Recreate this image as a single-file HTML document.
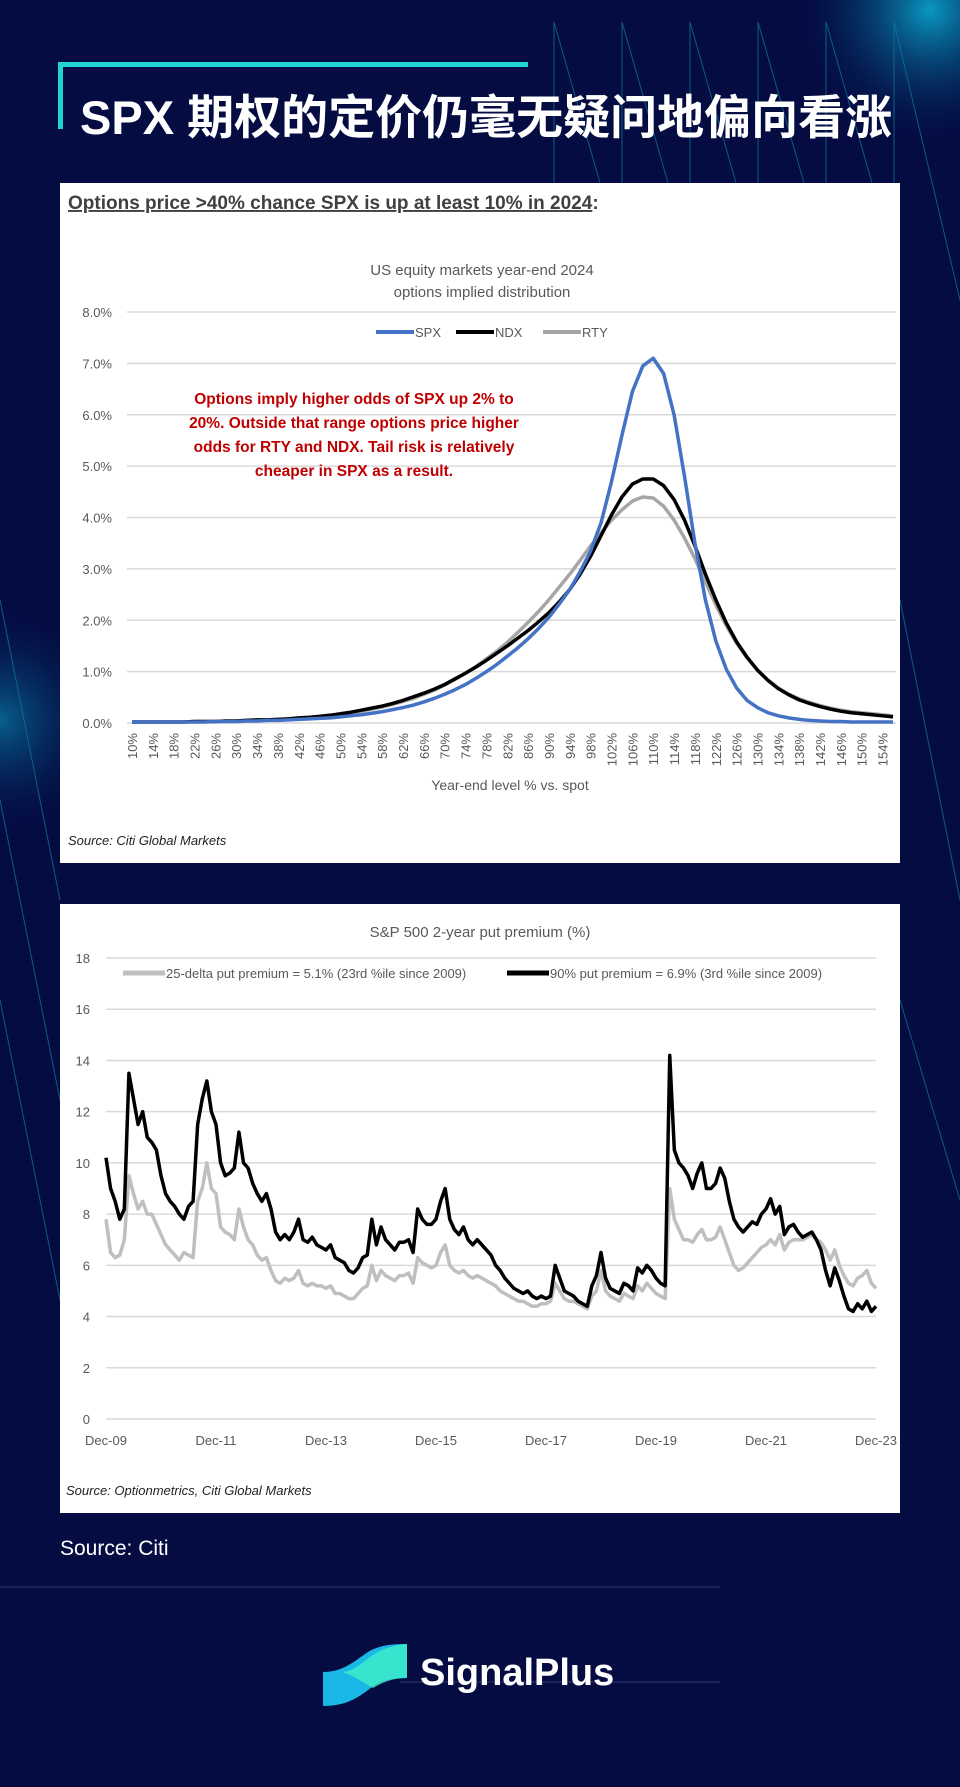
<!DOCTYPE html>
<html><head><meta charset="utf-8">
<style>
html,body{margin:0;padding:0;}
body{width:960px;height:1787px;position:relative;overflow:hidden;background:#040c42;font-family:"Liberation Sans","Noto Sans CJK SC",sans-serif;}
.abs{position:absolute;}
.panel{position:absolute;background:#fff;}
</style></head>
<body>
<svg class="abs" style="left:0;top:0" width="960" height="1787">
<defs>
<radialGradient id="g1" cx="0.5" cy="0.5" r="0.5"><stop offset="0" stop-color="#0aa8d0" stop-opacity="0.9"/><stop offset="1" stop-color="#040c42" stop-opacity="0"/></radialGradient>
</defs>
<circle cx="930" cy="10" r="140" fill="url(#g1)"/>
<circle cx="0" cy="720" r="120" fill="url(#g1)" opacity="0.6"/>
<g stroke="#0f7d9a" stroke-width="1" opacity="0.7">
<line x1="554" y1="22" x2="554" y2="183"/><line x1="554" y1="22" x2="600" y2="183"/>
<line x1="622" y1="22" x2="622" y2="183"/><line x1="622" y1="22" x2="668" y2="183"/>
<line x1="690" y1="22" x2="690" y2="183"/><line x1="690" y1="22" x2="736" y2="183"/>
<line x1="758" y1="22" x2="758" y2="183"/><line x1="758" y1="22" x2="804" y2="183"/>
<line x1="826" y1="22" x2="826" y2="183"/><line x1="826" y1="22" x2="872" y2="183"/>
<line x1="894" y1="22" x2="894" y2="183"/><line x1="894" y1="22" x2="960" y2="300"/>
<line x1="0" y1="600" x2="60" y2="900"/><line x1="0" y1="800" x2="60" y2="1100"/>
<line x1="0" y1="1000" x2="60" y2="1300"/><line x1="900" y1="600" x2="960" y2="900"/>
<line x1="900" y1="1000" x2="960" y2="1200"/>
</g>
<line x1="0" y1="1587" x2="720" y2="1587" stroke="#2a3a70" stroke-width="1"/>
<line x1="400" y1="1682" x2="720" y2="1682" stroke="#2a3a70" stroke-width="1"/>
</svg>

<div class="abs" style="left:58px;top:62px;width:470px;height:5px;background:#22d3d3"></div>
<div class="abs" style="left:58px;top:62px;width:5px;height:67px;background:#22d3d3"></div>
<div class="abs" style="left:80px;top:79px;color:#fff;font-size:47px;font-weight:bold;white-space:nowrap;letter-spacing:0px">SPX 期权的定价仍毫无疑问地偏向看涨</div>

<div class="panel" style="left:60px;top:183px;width:840px;height:680px">
<svg id="c1" width="840" height="680"></svg>
</div>

<div class="panel" style="left:60px;top:904px;width:840px;height:609px">
<svg id="c2" width="840" height="609"></svg>
</div>

<div class="abs" style="left:60px;top:1537px;color:#fff;font-size:21px">Source: Citi</div>

<div class="abs" style="left:323px;top:1642px;width:84px;height:66px">
<svg width="84" height="66"><path d="M0 30 C20 30 30 20 45 10 C55 4 65 2 84 2 L84 36 C64 36 55 40 45 48 C32 58 20 64 0 64 Z" fill="#19b8e6"/><path d="M20 30 C35 28 40 18 55 10 C62 6 72 3 84 2 L84 36 C70 36 60 40 50 46 C40 40 30 34 20 30Z" fill="#3ef0c8" opacity="0.8"/></svg>
</div>
<div class="abs" style="left:420px;top:1652px;color:#fff;font-size:38px;font-weight:bold">SignalPlus</div>

<script>
const NS='http://www.w3.org/2000/svg';
function mk(parent,tag,attrs,text){const e=document.createElementNS(NS,tag);for(const k in attrs)e.setAttribute(k,attrs[k]);if(text!==undefined)e.textContent=text;parent.appendChild(e);return e;}

// ---------- Chart 1 data ----------
const levels1=[];for(let v=10;v<=156;v+=2)levels1.push(v);
const yTicks1=[0,1,2,3,4,5,6,7,8];
const spxVals=[0.02,0.02,0.02,0.02,0.02,0.02,0.02,0.02,0.03,0.03,0.03,0.04,0.04,0.05,0.05,0.06,0.07,0.08,0.09,0.1,0.12,0.14,0.16,0.19,0.22,0.26,0.3,0.35,0.41,0.48,0.56,0.65,0.75,0.87,1.0,1.14,1.3,1.46,1.64,1.84,2.06,2.32,2.6,2.95,3.35,3.9,4.7,5.6,6.45,6.95,7.1,6.8,6.0,4.8,3.5,2.4,1.6,1.05,0.68,0.44,0.3,0.2,0.14,0.1,0.07,0.05,0.04,0.03,0.03,0.02,0.02,0.02,0.02,0.02];
const ndxVals=[0.02,0.02,0.02,0.02,0.02,0.02,0.03,0.03,0.03,0.04,0.04,0.05,0.06,0.06,0.07,0.08,0.1,0.11,0.13,0.15,0.18,0.21,0.25,0.29,0.33,0.38,0.44,0.51,0.58,0.66,0.75,0.86,0.97,1.09,1.22,1.36,1.5,1.65,1.8,1.97,2.15,2.36,2.6,2.9,3.25,3.65,4.05,4.4,4.65,4.75,4.75,4.62,4.35,3.95,3.45,2.9,2.4,1.95,1.58,1.28,1.03,0.83,0.67,0.55,0.45,0.38,0.32,0.27,0.23,0.2,0.18,0.16,0.14,0.12];
const rtyVals=[0.02,0.02,0.02,0.02,0.02,0.02,0.03,0.03,0.03,0.04,0.04,0.05,0.06,0.06,0.07,0.08,0.09,0.11,0.13,0.15,0.17,0.2,0.23,0.27,0.31,0.36,0.42,0.48,0.56,0.64,0.74,0.85,0.97,1.1,1.25,1.4,1.57,1.76,1.96,2.17,2.4,2.65,2.9,3.17,3.45,3.7,3.95,4.15,4.32,4.4,4.38,4.22,3.95,3.6,3.2,2.75,2.3,1.9,1.55,1.27,1.03,0.84,0.68,0.56,0.47,0.4,0.34,0.29,0.25,0.22,0.2,0.18,0.16,0.14];

(function(){
const s=document.getElementById('c1');
const L=67,R=836,T=129,B=540;
const x=i=>L+5+i*(R-L-8)/(levels1.length-1);
const y=v=>B-v/8*(B-T);
const h=mk(s,'text',{x:8,y:26,'font-size':19,'font-weight':'bold',fill:'#404040','font-family':'Liberation Sans'});

mk(h,'tspan',{'text-decoration':'underline'},'Options price >40% chance SPX is up at least 10% in 2024');
mk(h,'tspan',{},':');
let t=mk(s,'text',{x:422,y:92,'font-size':15,fill:'#595959','text-anchor':'middle'},'US equity markets year-end 2024');

mk(s,'text',{x:422,y:114,'font-size':15,fill:'#595959','text-anchor':'middle'},'options implied distribution');
yTicks1.forEach(v=>{const g=mk(s,'line',{x1:L,x2:R,y1:y(v),y2:y(v),stroke:'#d9d9d9','stroke-width':1.5});

const lb=mk(s,'text',{x:52,y:y(v)+5,'font-size':13,fill:'#595959','text-anchor':'end'},v.toFixed(1)+'%');
});
levels1.forEach((v,i)=>{if(i%2)return;const lb=mk(s,'text',{transform:`translate(${x(i)+5},${B+10}) rotate(-90)`,'font-size':13,fill:'#595959','text-anchor':'end'},v+'%');
});
const series=[[rtyVals,'#a6a6a6','RTY'],[ndxVals,'#000','NDX'],[spxVals,'#4472c4','SPX']];
series.forEach(([vals,col,nm])=>{const p=mk(s,'polyline',{points:vals.map((v,i)=>x(i)+','+y(v)).join(' '),fill:'none',stroke:col,'stroke-width':3.5,'stroke-linejoin':'round'});
});
const leg=[['SPX','#4472c4',316],['NDX','#000',396],['RTY','#a6a6a6',483]];
leg.forEach(([n,c,lx])=>{const l=mk(s,'line',{x1:lx,x2:lx+38,y1:149,y2:149,stroke:c,'stroke-width':4});

const tx=mk(s,'text',{x:lx+39,y:154,'font-size':13,fill:'#595959'},n);});
const ann=['Options imply higher odds of SPX up 2% to','20%. Outside that range options price higher','odds for RTY and NDX. Tail risk is relatively','cheaper in SPX as a result.'];
ann.forEach((a,i)=>{const tx=mk(s,'text',{x:294,y:221+i*24,'font-size':15.5,'font-weight':'bold',fill:'#c00000','text-anchor':'middle'},a);
});
t=mk(s,'text',{x:450,y:607,'font-size':14,fill:'#595959','text-anchor':'middle'},'Year-end level % vs. spot');

t=mk(s,'text',{x:8,y:662,'font-size':13,'font-style':'italic',fill:'#222'},'Source: Citi Global Markets');

})();

// ---------- Chart 2 data ----------
const xLabels2=['Dec-09','Dec-11','Dec-13','Dec-15','Dec-17','Dec-19','Dec-21','Dec-23'];
const yTicks2=[0,2,4,6,8,10,12,14,16,18];
const put90=[10.2,9.0,8.5,7.8,8.2,13.5,12.5,11.5,12.0,11.0,10.8,10.5,
9.5,8.8,8.5,8.3,8.0,7.8,8.3,8.5,11.5,12.5,13.2,12.0,
11.5,10.0,9.5,9.6,9.8,11.2,10.0,9.8,9.2,8.8,8.5,8.8,
8.2,7.3,7.0,7.2,7.0,7.3,7.8,7.0,6.9,7.1,6.8,6.7,
6.6,6.8,6.3,6.2,6.1,5.8,5.7,5.9,6.3,6.4,7.8,6.8,
7.5,7.0,6.8,6.6,6.9,6.9,7.0,6.5,8.2,7.8,7.6,7.6,
7.8,8.5,9.0,7.8,7.4,7.2,7.5,7.0,6.8,7.0,6.8,6.6,
6.4,6.0,5.8,5.5,5.3,5.1,5.0,4.9,5.0,4.8,4.7,4.8,
4.7,4.8,6.0,5.5,5.0,4.9,4.8,4.6,4.5,4.4,5.2,5.6,
6.5,5.5,5.1,5.0,4.9,5.3,5.2,5.0,5.9,5.7,6.0,5.8,
5.5,5.3,5.2,14.2,10.5,10.0,9.8,9.5,9.0,9.6,10.0,9.0,
9.0,9.2,9.8,9.4,8.5,7.8,7.5,7.3,7.5,7.7,7.6,8.0,
8.2,8.6,8.0,8.3,7.2,7.5,7.6,7.3,7.1,7.2,7.3,7.0,
6.6,5.8,5.2,5.9,5.4,4.8,4.3,4.2,4.5,4.3,4.6,4.2,4.4];
const delta25=[7.8,6.5,6.3,6.4,7.0,9.5,8.8,8.2,8.5,8.0,8.0,7.6,
7.2,6.8,6.6,6.4,6.2,6.5,6.4,6.3,8.5,9.0,10.0,9.0,
8.8,7.5,7.3,7.2,7.0,8.2,7.5,7.0,6.8,6.4,6.2,6.3,
5.8,5.4,5.3,5.5,5.4,5.5,5.8,5.3,5.2,5.3,5.2,5.2,
5.1,5.2,4.9,4.9,4.8,4.7,4.7,4.9,5.1,5.2,6.0,5.4,
5.8,5.6,5.5,5.4,5.6,5.6,5.7,5.3,6.3,6.1,6.0,5.9,
6.0,6.5,6.8,6.0,5.8,5.7,5.8,5.6,5.5,5.6,5.5,5.4,
5.3,5.2,5.0,4.9,4.8,4.7,4.6,4.6,4.5,4.4,4.4,4.5,
4.5,4.6,5.3,5.0,4.7,4.6,4.6,4.5,4.4,4.3,4.8,5.0,
5.8,5.0,4.8,4.7,4.6,4.9,4.8,4.7,5.2,5.0,5.3,5.1,
4.9,4.8,4.7,9.0,7.8,7.4,7.0,7.0,6.9,7.2,7.4,7.0,
7.0,7.1,7.5,7.0,6.5,6.0,5.8,5.9,6.1,6.3,6.5,6.7,
6.8,7.0,6.8,7.2,6.6,6.9,7.0,7.0,7.0,7.1,7.2,7.0,
6.9,6.6,6.2,6.6,6.0,5.6,5.3,5.2,5.5,5.6,5.8,5.3,5.1];

(function(){
const s=document.getElementById('c2');
const L=46,R=816,T=54,B=515;
const y=v=>B-v/18*(B-T);
const xi=(i,n)=>L+i*(R-L)/(n-1);
let t=mk(s,'text',{x:420,y:33,'font-size':15,fill:'#595959','text-anchor':'middle'},'S&P 500 2-year put premium (%)');

yTicks2.forEach(v=>{const g=mk(s,'line',{x1:L,x2:R,y1:y(v),y2:y(v),stroke:'#d9d9d9','stroke-width':1.5});

const lb=mk(s,'text',{x:30,y:y(v)+5,'font-size':13,fill:'#595959','text-anchor':'end'},String(v));
});
xLabels2.forEach((lab,i)=>{const lb=mk(s,'text',{x:xi(i,xLabels2.length),y:541,'font-size':13,fill:'#595959','text-anchor':'middle'},lab);
});
[[delta25,'#bfbfbf','series-25-delta'],[put90,'#000','series-90-put']].forEach(([vals,c,nm])=>{
const p=mk(s,'polyline',{points:vals.map((v,i)=>xi(i,vals.length)+','+y(v)).join(' '),fill:'none',stroke:c,'stroke-width':3.5,'stroke-linejoin':'round'});
});
const legs=[[63,'#bfbfbf','25-delta put premium = 5.1% (23rd %ile since 2009)'],[447,'#000','90% put premium = 6.9% (3rd %ile since 2009)']];
legs.forEach(([lx,c,tx])=>{const l=mk(s,'line',{x1:lx,x2:lx+42,y1:69,y2:69,stroke:c,'stroke-width':5});

const e=mk(s,'text',{x:lx+43,y:74,'font-size':13,fill:'#595959'},tx);});
t=mk(s,'text',{x:6,y:591,'font-size':13,'font-style':'italic',fill:'#222'},'Source: Optionmetrics, Citi Global Markets');

})();
</script>
</body></html>
